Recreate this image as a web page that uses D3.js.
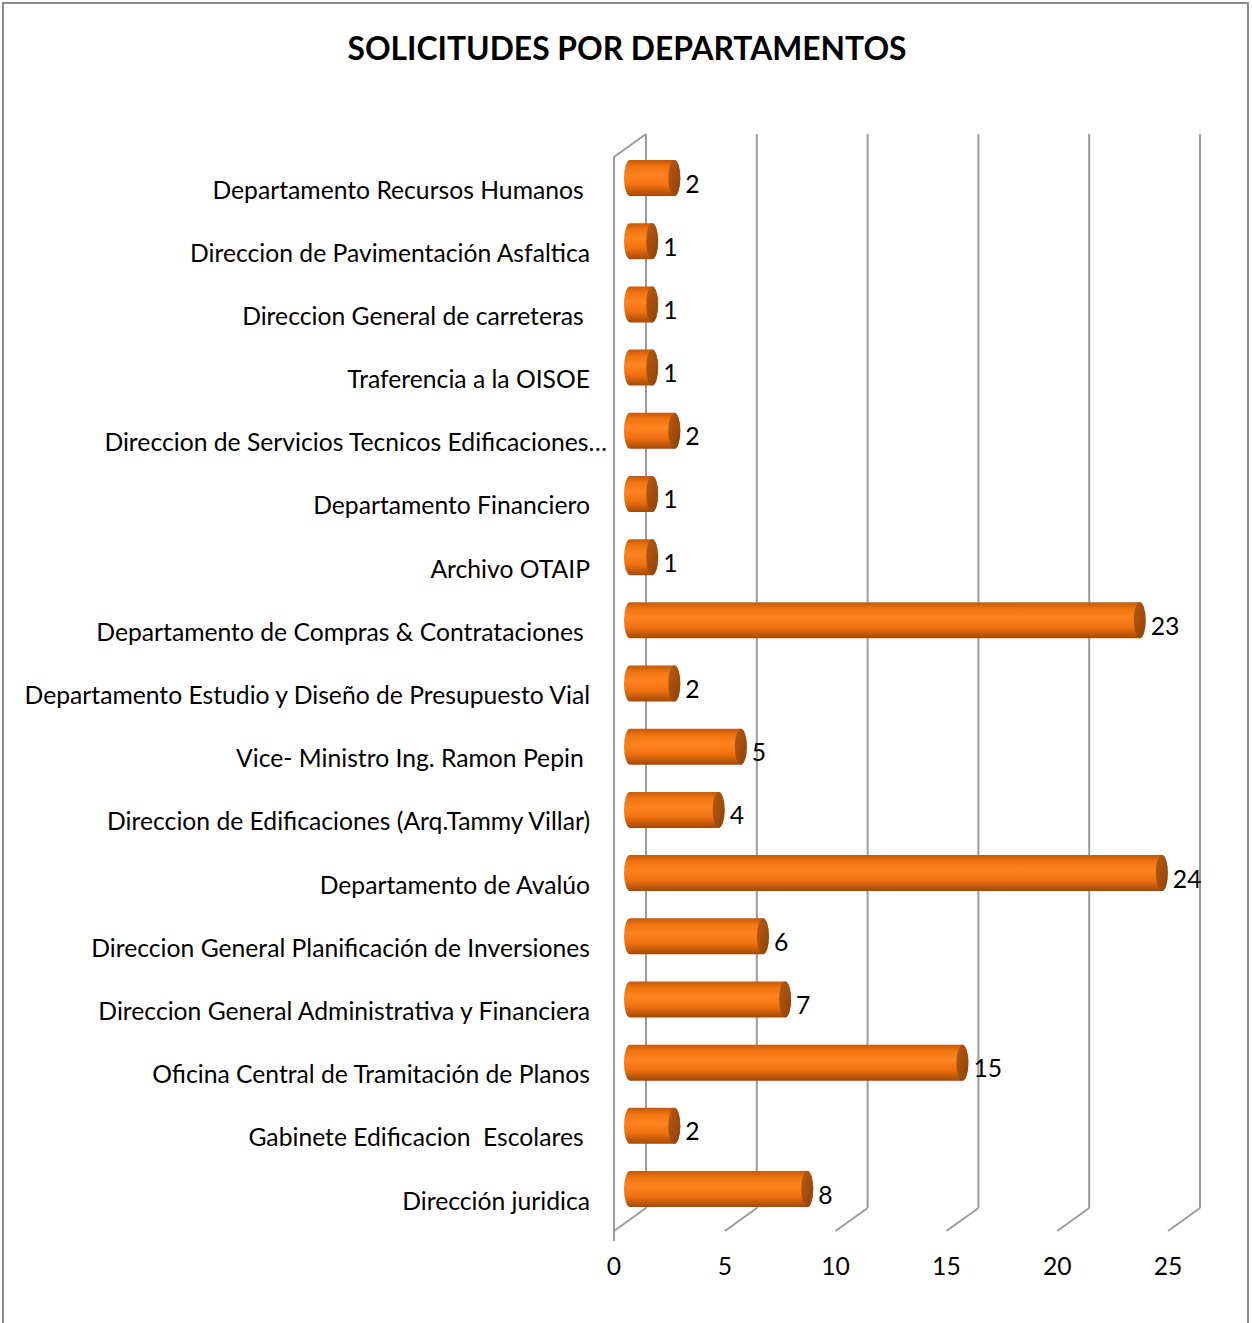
<!DOCTYPE html>
<html>
<head>
<meta charset="utf-8">
<script src="https://cdn.jsdelivr.net/npm/d3@7"></script>
<style>
  body { margin: 0; background: #fff; }
  text { font-family: Lato, "Open Sans", sans-serif; white-space: pre; fill: #000; }
</style>
</head>
<body>
<div id="chart"></div>
<script>
const departamentos = [
    "Departamento Recursos Humanos ",
    "Direccion de Pavimentación Asfaltica",
    "Direccion General de carreteras ",
    "Traferencia a la OISOE",
    "Direccion de Servicios Tecnicos Edificaciones…",
    "Departamento Financiero",
    "Archivo OTAIP",
    "Departamento de Compras & Contrataciones ",
    "Departamento Estudio y Diseño de Presupuesto Vial",
    "Vice- Ministro Ing. Ramon Pepin ",
    "Direccion de Edificaciones (Arq.Tammy Villar)",
    "Departamento de Avalúo",
    "Direccion General Planificación de Inversiones",
    "Direccion General Administrativa y Financiera",
    "Oficina Central de Tramitación de Planos",
    "Gabinete Edificacion  Escolares ",
    "Dirección juridica"
];
const solicitudes = [2, 1, 1, 1, 2, 1, 1, 23, 2, 5, 4, 24, 6, 7, 15, 2, 8];
const ticks = [0, 5, 10, 15, 20, 25];

const width = 1252;
const height = 1323;

const svg = d3.select("#chart")
    .append("svg")
    .attr("width", width)
    .attr("height", height);

// outer frame
svg.append("rect")
    .attr("x", 3)
    .attr("y", 3)
    .attr("width", 1245)
    .attr("height", 1340)
    .attr("fill", "none")
    .attr("stroke", "#8c8c8c")
    .attr("stroke-width", 2);

svg.append("text")
    .attr("x", 627)
    .attr("y", 48)
    .attr("text-anchor", "middle")
    .attr("dominant-baseline", "central")
    .style("font-size", "31.8px")
    .style("font-weight", "bold")
    .text("SOLICITUDES POR DEPARTAMENTOS");

// 3D box: front plane scale + depth offset
const depth = { dx: 32, dy: 23 };
const wallTop = 134;
const wallBottom = 1208;

const x = d3.scaleLinear().domain([0, 25]).range([614, 1168]);
const xBar = (v) => x(v) + depth.dx / 2; // bars sit half way into the depth
const y = d3.scalePoint().domain(departamentos).range([178, 1189]);

const grid = svg.append("g")
    .attr("stroke", "#9c9c9c")
    .attr("stroke-width", 2)
    .attr("fill", "none");

grid.selectAll(".back")
    .data(ticks)
    .join("line")
    .attr("x1", (d) => x(d) + depth.dx)
    .attr("x2", (d) => x(d) + depth.dx)
    .attr("y1", wallTop)
    .attr("y2", wallBottom);

grid.selectAll(".floor")
    .data(ticks)
    .join("path")
    .attr("d", (d) => `M${x(d) + depth.dx},${wallBottom}L${x(d)},${wallBottom + depth.dy}`);

// left wall
grid.append("path")
    .attr("d", `M${x(0)},${wallBottom + depth.dy + 10}L${x(0)},${wallTop + depth.dy}L${x(0) + depth.dx},${wallTop}`);

// gradients
const defs = svg.append("defs");
const bodyGrad = defs.append("linearGradient")
    .attr("id", "body-grad")
    .attr("x1", "0%").attr("x2", "0%")
    .attr("y1", "0%").attr("y2", "100%");
[
    { offset: "0%", color: "#c25a0c" },
    { offset: "18%", color: "#f0740f" },
    { offset: "42%", color: "#ff8420" },
    { offset: "70%", color: "#f07010" },
    { offset: "100%", color: "#a34a06" }
].forEach((s) => bodyGrad.append("stop").attr("offset", s.offset).attr("stop-color", s.color));

const capGrad = defs.append("linearGradient")
    .attr("id", "cap-grad")
    .attr("x1", "0%").attr("x2", "100%")
    .attr("y1", "0%").attr("y2", "100%");
[
    { offset: "0%", color: "#b85a14" },
    { offset: "100%", color: "#8e4208" }
].forEach((s) => capGrad.append("stop").attr("offset", s.offset).attr("stop-color", s.color));

const barH = 36;
const rx = 6;

const bars = svg.append("g")
    .selectAll("g")
    .data(departamentos.map((d, i) => ({ name: d, value: solicitudes[i] })))
    .join("g");

bars.append("path")
    .attr("d", (d) => {
        const x0 = xBar(0), x1 = xBar(d.value);
        const top = y(d.name) - barH / 2, bottom = y(d.name) + barH / 2;
        return `M${x0},${top}L${x1},${top}A${rx},${barH / 2} 0 0 1 ${x1},${bottom}L${x0},${bottom}A${rx},${barH / 2} 0 0 1 ${x0},${top}Z`;
    })
    .attr("fill", "url(#body-grad)");

bars.append("ellipse")
    .attr("cx", (d) => xBar(d.value))
    .attr("cy", (d) => y(d.name))
    .attr("rx", rx)
    .attr("ry", barH / 2)
    .attr("fill", "url(#cap-grad)");

bars.append("text")
    .attr("x", (d) => xBar(d.value) + rx + 5)
    .attr("y", (d) => y(d.name) + 5)
    .attr("dominant-baseline", "central")
    .style("font-size", "24.7px")
    .text((d) => d.value);

// category labels
svg.append("g")
    .selectAll("text")
    .data(departamentos)
    .join("text")
    .attr("x", (d) => (d.endsWith("…") ? 607 : 590))
    .attr("y", (d) => y(d) + 11)
    .attr("text-anchor", "end")
    .attr("dominant-baseline", "central")
    .style("font-size", "24.7px")
    .text((d) => d);

// value axis labels
svg.append("g")
    .selectAll("text")
    .data(ticks)
    .join("text")
    .attr("x", (d) => x(d))
    .attr("y", 1265)
    .attr("text-anchor", "middle")
    .attr("dominant-baseline", "central")
    .style("font-size", "24.7px")
    .text((d) => d);
</script>
</body>
</html>
